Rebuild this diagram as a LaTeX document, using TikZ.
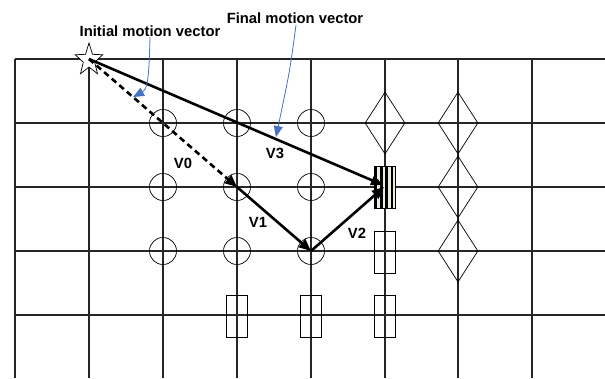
\documentclass[tikz,border=0pt]{standalone}
\usepackage{fontspec}
\setmainfont{Liberation Sans}
\usetikzlibrary{shapes.geometric,arrows.meta}
\definecolor{calloutblue}{RGB}{68,114,196}
\definecolor{stripelight}{RGB}{238,238,224}
\begin{document}
\begin{tikzpicture}[x=1pt,y=-1pt,
  gridline/.style={line width=1.1pt, black!85},
  ring/.style={circle, draw, line width=0.7pt, minimum size=27pt, inner sep=0pt},
  rhomb/.style={diamond, draw, line width=0.7pt, minimum width=40pt, minimum height=62pt, inner sep=0pt},
  cell/.style={rectangle, draw, line width=0.7pt, minimum width=21pt, minimum height=42pt, inner sep=0pt},
  mv/.style={line width=2.6pt, -{Triangle[length=12pt,width=10pt]}},
  lbl/.style={font=\fontsize{14.8}{17}\selectfont\bfseries, inner sep=0pt},
  callout/.style={draw=calloutblue, line width=0.8pt, -{Triangle[length=11pt,width=9pt]}}
]
\useasboundingbox (0,0) rectangle (605,378);
% grid
\foreach \y in {59,123,187,251,315} \draw[gridline] (15,\y) -- (605,\y);
\foreach \x in {15,89,163,237,311,385,458,532} \draw[gridline] (\x,59) -- (\x,378);
% circles
\foreach \x/\n in {163/a,237/b,311/c} {
  \node[ring] (r1\n) at (\x,123) {};
  \node[ring] (r2\n) at (\x,187) {};
  \node[ring] (r3\n) at (\x,251) {};
}
% diamonds
\node[rhomb] (d1) at (385,123) {};
\node[rhomb] (d2) at (458,123) {};
\node[rhomb] (d3) at (458,187) {};
\node[rhomb] (d4) at (458,251) {};
% rectangles
\node[cell] (b1) at (385,252) {};
\node[cell] (b2) at (237,316) {};
\node[cell] (b3) at (311,316) {};
\node[cell] (b4) at (385,316) {};
% striped block
\fill[stripelight] (374.5,166) rectangle (395.5,208);
\foreach \i in {0,...,3} \fill[black] (374.5+\i*5.4,166) rectangle ++(2.7,42);
\node[cell] (blk) at (385,187) {};
% star
\coordinate (s0) at (89,59);
\begin{scope}[shift={(89,60)}, x=0.85pt, y=1pt]
\draw[fill=white, line width=0.7pt] (90:17) -- (126:7) -- (162:17) -- (198:7) -- (234:17) -- (270:7) -- (306:17) -- (342:7) -- (18:17) -- (54:7) -- cycle;
\end{scope}
% motion vectors
\coordinate (pA) at (237,187);
\coordinate (pB) at (311,251);
\coordinate (pC) at (384,187);
\coordinate (pD) at (383,185);
\draw[mv, dash pattern=on 6pt off 4pt] (s0) -- (pA);
\draw[mv] (s0) -- (pD);
\draw[mv] (pA) -- (pB);
\draw[mv] (pB) -- (pC);
% labels
\node[lbl] (v0) at (183,163) {V0};
\node[lbl] (v3) at (275,153) {V3};
\node[lbl] (v1) at (258,222) {V1};
\node[lbl] (v2) at (357,233) {V2};
% callouts
\node[lbl] (t1) at (150,31) {Initial motion vector};
\node[lbl] (t2) at (295,18) {Final motion vector};
\coordinate (c1) at (133,97);
\coordinate (c2) at (276,137);
\draw[callout] (150,37) .. controls (149,75) and (148,89) .. (c1);
\draw[callout] (296,25) .. controls (290,70) .. (c2);
\end{tikzpicture}
\end{document}
